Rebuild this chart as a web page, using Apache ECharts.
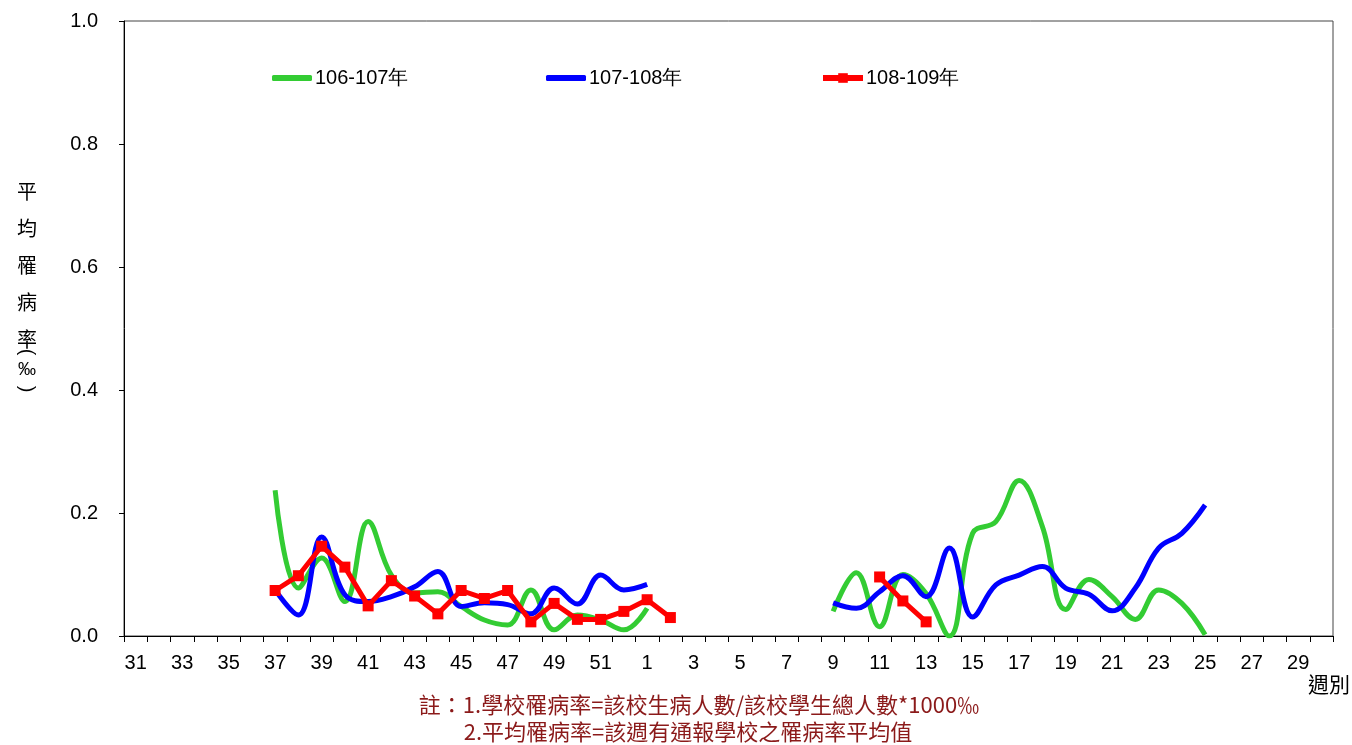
<!DOCTYPE html>
<html>
<head>
<meta charset="utf-8">
<script src="https://cdn.jsdelivr.net/npm/echarts@6.0.0/dist/echarts.min.js"></script>
<style>
  html, body { margin: 0; padding: 0; background: #fff; }
  #chart { width: 1352px; height: 745px; }
</style>
</head>
<body>
<div id="chart"></div>
<script>
// semaines 31..52 puis 1..30
const weeks = ["31","32","33","34","35","36","37","38","39","40","41","42","43","44","45","46","47","48","49","50","51","52",
  "1","2","3","4","5","6","7","8","9","10","11","12","13","14","15","16","17","18","19","20","21","22","23","24","25","26","27","28","29","30"];

const seriesNames = ["106-107年", "107-108年", "108-109年"];

// 106-107年
const y106 = [null,null,null,null,null,null,
  0.237,0.078,0.127,0.056,0.186,0.099,0.070,0.072,0.048,0.026,0.018,0.075,0.010,0.034,0.026,0.010,
  0.045,
  null,null,null,null,null,null,null,
  0.040,0.103,0.015,0.100,0.069,0.000,0.167,0.186,0.253,0.178,0.043,0.092,0.064,0.027,0.075,0.053,0.002,
  null,null,null,null,null];

// 107-108年
const y107 = [null,null,null,null,null,null,
  0.075,0.034,0.161,0.067,0.056,0.064,0.080,0.105,0.048,0.054,0.051,0.036,0.078,0.052,0.099,0.075,
  0.084,
  null,null,null,null,null,null,null,
  0.054,0.045,0.072,0.098,0.064,0.143,0.031,0.083,0.099,0.113,0.078,0.068,0.041,0.078,0.143,0.167,0.213,
  null,null,null,null,null];

// 108-109年
const y108 = [null,null,null,null,null,null,
  0.074,0.098,0.146,0.112,0.049,0.090,0.065,0.036,0.074,0.061,0.074,0.023,0.053,0.027,0.027,0.040,
  0.059,0.030,
  null,null,null,null,null,null,null,null,
  0.096,0.057,0.023,
  null,null,null,null,null,null,null,null,null,null,null,null,null,null,null,null,null];

const yTicks = [0, 0.2, 0.4, 0.6, 0.8, 1.0];

const noteLine1 = "註：1.學校罹病率=該校生病人數/該校學生總人數*1000‰";
const noteLine2 = "2.平均罹病率=該週有通報學校之罹病率平均值";

const fontLat = "Arial, 'Liberation Sans', sans-serif";
const fontCjk = "'Noto Sans CJK TC', 'Noto Sans CJK SC', sans-serif";

const chart = echarts.init(document.getElementById("chart"));

function legendAt(name, left, icon) {
  const item = { name: name };
  if (icon) item.icon = icon;
  return {
    data: [item],
    left: left,
    top: 63,
    itemWidth: 40,
    itemHeight: icon ? 6 : 12,
    itemGap: 4,
    lineStyle: { width: 6 },
    textStyle: { fontSize: 20, color: "#000", fontFamily: fontLat, padding: [0, 0, 0, -2] },
  };
}

chart.setOption({
  animation: false,
  backgroundColor: "#fff",
  grid: {
    left: 124, right: 19, top: 21, bottom: 109,
    show: true, borderColor: "#444", borderWidth: 1,
  },
  legend: [
    legendAt(seriesNames[0], 267, "roundRect"),
    legendAt(seriesNames[1], 541, "roundRect"),
    legendAt(seriesNames[2], 815, null),
  ],
  xAxis: {
    type: "category",
    data: weeks,
    boundaryGap: true,
    axisLine: { lineStyle: { color: "#000", width: 1 } },
    axisTick: { show: true, interval: 0, length: 6, lineStyle: { color: "#000" } },
    axisLabel: { interval: 1, fontSize: 20, color: "#000", margin: 17, fontFamily: fontLat },
    splitLine: { show: false },
  },
  yAxis: {
    type: "value",
    min: yTicks[0],
    max: yTicks[yTicks.length - 1],
    interval: 0.2,
    axisLine: { show: true, lineStyle: { color: "#000", width: 1 } },
    axisTick: { show: true, length: 5, lineStyle: { color: "#000" } },
    axisLabel: {
      fontSize: 20, color: "#000", margin: 26, fontFamily: fontLat,
      formatter: (v) => v.toFixed(1),
    },
    splitLine: { show: false },
  },
  series: [
    {
      name: seriesNames[0],
      type: "line",
      data: y106,
      smooth: 0.4,
      symbol: "none",
      connectNulls: false,
      lineStyle: { color: "#33CC33", width: 5 },
      itemStyle: { color: "#33CC33" },
      z: 2,
    },
    {
      name: seriesNames[1],
      type: "line",
      data: y107,
      smooth: 0.4,
      symbol: "none",
      connectNulls: false,
      lineStyle: { color: "#0000FF", width: 5 },
      itemStyle: { color: "#0000FF" },
      z: 3,
    },
    {
      name: seriesNames[2],
      type: "line",
      data: y108,
      smooth: false,
      symbol: "rect",
      symbolSize: 11,
      connectNulls: false,
      lineStyle: { color: "#FF0000", width: 5 },
      itemStyle: { color: "#FF0000" },
      z: 4,
    },
  ],
  graphic: [
    // titre de l'axe vertical
    {
      type: "text", left: 17, top: 173,
      style: { text: "平\n均\n罹\n病\n率", font: "20px " + fontCjk, lineHeight: 37, fill: "#000" },
    },
    {
      type: "text", x: 27, y: 352, rotation: -Math.PI / 2,
      style: { text: "(", font: "20px " + fontLat, fill: "#000", textAlign: "center", textVerticalAlign: "middle" },
    },
    {
      type: "text", x: 27, y: 370,
      style: { text: "‰", font: "18px " + fontLat, fill: "#000", textAlign: "center", textVerticalAlign: "middle" },
    },
    {
      type: "text", x: 27, y: 389, rotation: -Math.PI / 2,
      style: { text: ")", font: "20px " + fontLat, fill: "#000", textAlign: "center", textVerticalAlign: "middle" },
    },
    {
      type: "text", x: 1350, y: 684,
      style: { text: "週別", font: "21px " + fontCjk, fill: "#000", textAlign: "right", textVerticalAlign: "middle" },
    },
    {
      type: "text", x: 699, y: 705,
      style: { text: noteLine1, font: "22px " + fontCjk, fill: "#8B1A1A", textAlign: "center", textVerticalAlign: "middle" },
    },
    {
      type: "text", x: 688, y: 732,
      style: { text: noteLine2, font: "22px " + fontCjk, fill: "#8B1A1A", textAlign: "center", textVerticalAlign: "middle" },
    },
  ],
});
</script>
</body>
</html>
